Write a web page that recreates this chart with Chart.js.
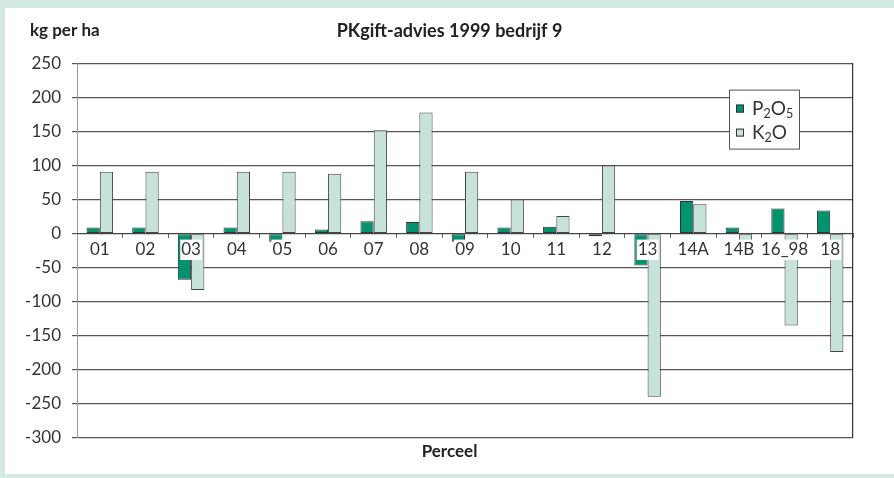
<!DOCTYPE html>
<html>
<head>
<meta charset="utf-8">
<script src="https://cdn.jsdelivr.net/npm/chart.js@4.4.0/dist/chart.umd.min.js"></script>
<style>
  html, body { margin: 0; padding: 0; background: #d4e9e2; }
  #frame { position: absolute; left: 5px; top: 8px; width: 889px; height: 466px; background: #fff; }
</style>
</head>
<body>
<div id="frame"><canvas id="pkChart" width="889" height="466"></canvas></div>
<script>
// Percelen en PK-advies (kg per ha)
const categories = ['01', '02', '03', '04', '05', '06', '07', '08', '09', '10', '11', '12', '13', '14A', '14B', '16_98', '18'];
const p2o5 = [9, 9, -68, 9, -12, 6, 18, 17, -12, 9, 10, -4, -47, 48, 9, 37, 34];
const k2o = [91, 91, -83, 91, 91, 88, 152, 178, 91, 50, 26, 100, -240, 43, -12, -135, -174];
const yTicks = { min: -300, max: 250, step: 50 };

const fontFam = 'Lato, "Open Sans", sans-serif';

// tekst met cijfers als subscript (P2O5, K2O)
function drawChem(ctx, text, x, y, size) {
    let cx = x;
    for (const ch of text) {
        const sub = /[0-9]/.test(ch);
        ctx.font = (sub ? size * 0.66 : size) + 'px ' + fontFam;
        ctx.fillText(ch, cx, sub ? y + size * 0.28 : y);
        cx += ctx.measureText(ch).width;
    }
}

const extraText = {
    id: 'extraText',
    afterDraw(chart) {
        const ctx = chart.ctx;
        ctx.save();
        ctx.fillStyle = '#222';
        ctx.font = 'bold 17px ' + fontFam;
        ctx.textBaseline = 'middle';
        ctx.textAlign = 'left';
        ctx.fillText('kg per ha', 25, 23);
        ctx.restore();
    },
    afterDatasetsDraw(chart) {
        // legenda binnen de grafiek
        const ctx = chart.ctx;
        const area = chart.chartArea;
        const bx = area.right - 124, by = area.top + 26, bw = 70, bh = 59;
        ctx.save();
        ctx.fillStyle = '#fff';
        ctx.fillRect(bx, by, bw, bh);
        ctx.strokeStyle = '#555';
        ctx.lineWidth = 1;
        ctx.strokeRect(bx + 0.5, by + 0.5, bw, bh);
        chart.data.datasets.forEach((ds, i) => {
            const cy = by + 19 + i * 24;
            ctx.fillStyle = ds.backgroundColor;
            ctx.fillRect(bx + 7, cy - 4, 8, 8);
            ctx.strokeStyle = '#333';
            ctx.strokeRect(bx + 7.5, cy - 3.5, 7, 7);
            ctx.fillStyle = '#333';
            ctx.textBaseline = 'middle';
            drawChem(ctx, ds.label, bx + 23, cy, 19);
        });
        ctx.restore();
    }
};

const ctx = document.getElementById('pkChart').getContext('2d');
const pkChart = new Chart(ctx, {
    type: 'bar',
    data: {
        labels: categories,
        datasets: [{
            label: 'P2O5',
            data: p2o5,
            backgroundColor: '#00936e',
            borderColor: '#333',
            borderWidth: 1,
            borderSkipped: false
        }, {
            label: 'K2O',
            data: k2o,
            backgroundColor: '#c6e2da',
            borderColor: '#444',
            borderWidth: 1,
            borderSkipped: false
        }]
    },
    options: {
        responsive: false,
        animation: false,
        categoryPercentage: 0.58,
        barPercentage: 1,
        layout: { padding: 0 },
        plugins: {
            legend: { display: false },
            tooltip: { enabled: false },
            title: {
                display: true,
                text: 'PKgift-advies 1999 bedrijf 9',
                color: '#222',
                font: { family: fontFam, size: 18, weight: 'bold' },
                padding: { top: 12, bottom: 22 }
            },
            subtitle: {
                display: true,
                position: 'bottom',
                text: 'Perceel',
                color: '#222',
                font: { family: fontFam, size: 17, weight: 'bold' },
                padding: { top: 4, bottom: 12 }
            }
        },
        scales: {
            x: {
                position: { y: 0 },
                grid: { drawOnChartArea: false, tickLength: 4, color: '#666' },
                border: { color: '#444', z: 1 },
                ticks: {
                    z: 1,
                    color: '#333',
                    padding: 2,
                    font: { family: fontFam, size: 17 },
                    showLabelBackdrop: true,
                    backdropColor: '#fff',
                    backdropPadding: { top: 0, bottom: 0, left: 1, right: 1 },
                    maxRotation: 0,
                    autoSkip: false
                }
            },
            y: {
                min: yTicks.min,
                max: yTicks.max,
                afterFit: function(scale) { scale.width = 72; },
                grid: { color: '#555', lineWidth: 1.2, tickLength: 5 },
                border: { color: '#999' },
                ticks: {
                    stepSize: yTicks.step,
                    color: '#333',
                    padding: 11,
                    font: { family: fontFam, size: 17 }
                }
            },
            yRight: {
                type: 'linear',
                position: 'right',
                min: yTicks.min,
                max: yTicks.max,
                afterFit: function(scale) { scale.width = 41; },
                grid: { drawOnChartArea: false, drawTicks: false },
                border: { color: '#333', width: 1.2 },
                ticks: { display: false }
            }
        }
    },
    plugins: [extraText]
});
</script>
</body>
</html>
